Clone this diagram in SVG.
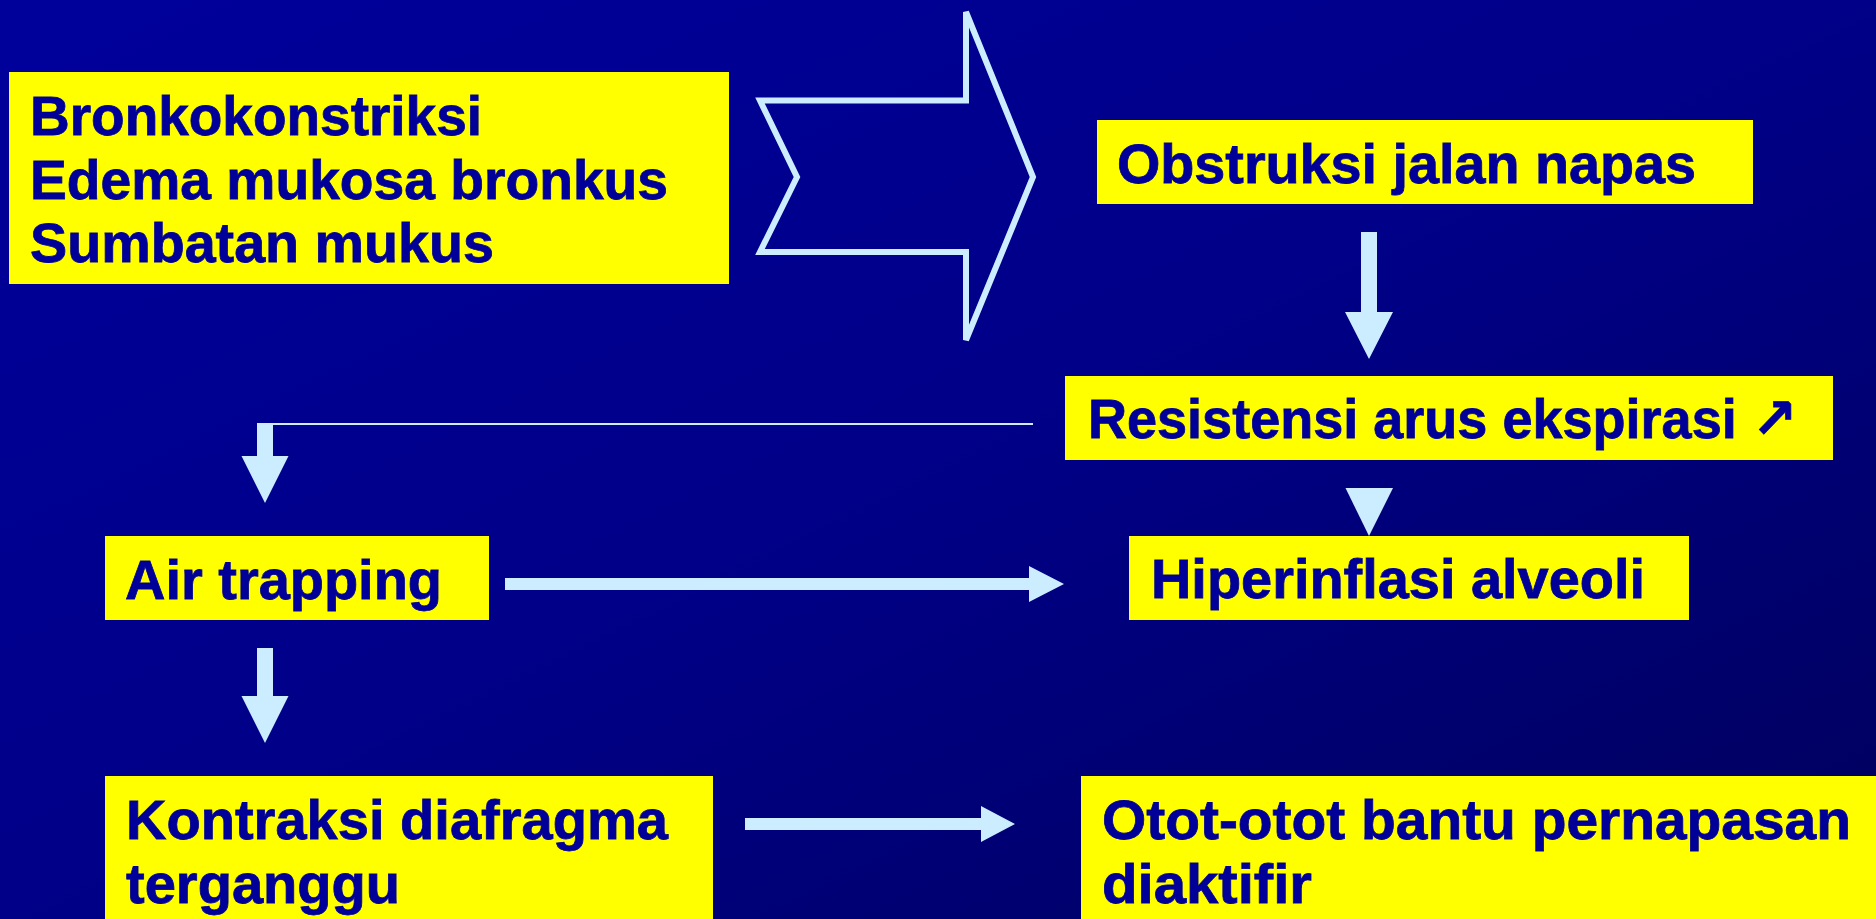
<svg xmlns="http://www.w3.org/2000/svg" width="1876" height="919" viewBox="0 0 1876 919">
  <defs>
    <linearGradient id="bg" x1="0" y1="0" x2="1" y2="1">
      <stop offset="0" stop-color="#00009C"/>
      <stop offset="0.5" stop-color="#000088"/>
      <stop offset="1" stop-color="#00005C"/>
    </linearGradient>
    <style>
      .box { fill: #FFFF00; }
      .t { font-family: "Liberation Sans", "DejaVu Sans", sans-serif; font-weight: bold; font-size: 56px; fill: #000099; stroke: #000099; stroke-width: 0.8; }
      .arr { fill: #CCECFF; }
      .hollow { fill: none; stroke: #CCECFF; stroke-width: 6; stroke-linejoin: miter; }
      .thin { stroke: #CCECFF; stroke-width: 2; fill: none; }
    </style>
  </defs>
  <rect x="0" y="0" width="1876" height="919" fill="url(#bg)"/>

  <g id="connectors">
    <polygon class="hollow" points="760,100.5 966,100.5 966,12 1033,177 966,340 966,252 760,252 797,177"/>
    <polygon class="arr" points="1361,232 1377,232 1377,312 1393,312 1369,359 1345,312 1361,312"/>
    <polygon class="arr" points="1345.5,488 1393,488 1369,536"/>
    <line class="thin" x1="265" y1="424" x2="1033" y2="424"/>
    <polygon class="arr" points="257,423 273,423 273,456 288.5,456 265,503 241.5,456 257,456"/>
    <polygon class="arr" points="257,648 273,648 273,696 288.5,696 265,743 241.5,696 257,696"/>
    <polygon class="arr" points="505,578 1029,578 1029,566 1064,584 1029,602 1029,590 505,590"/>
    <polygon class="arr" points="745,818 981,818 981,806 1015,824 981,842 981,830 745,830"/>
  </g>

  <g id="node-causes">
    <rect class="box" x="9" y="72" width="720" height="212"/>
    <text class="t" x="30" y="135" textLength="452" lengthAdjust="spacingAndGlyphs">Bronkokonstriksi</text>
    <text class="t" x="30" y="199" textLength="638" lengthAdjust="spacingAndGlyphs">Edema mukosa bronkus</text>
    <text class="t" x="30" y="262" textLength="464" lengthAdjust="spacingAndGlyphs">Sumbatan mukus</text>
  </g>

  <g id="node-obstruksi">
    <rect class="box" x="1097" y="120" width="656" height="84"/>
    <text class="t" x="1117" y="182.5" textLength="579" lengthAdjust="spacingAndGlyphs">Obstruksi jalan napas</text>
  </g>

  <g id="node-resistensi">
    <rect class="box" x="1065" y="376" width="768" height="84"/>
    <text class="t" x="1088" y="438" textLength="709" lengthAdjust="spacingAndGlyphs">Resistensi arus ekspirasi ↗</text>
  </g>

  <g id="node-hiperinflasi">
    <rect class="box" x="1129" y="536" width="560" height="84"/>
    <text class="t" x="1151" y="598" textLength="494" lengthAdjust="spacingAndGlyphs">Hiperinflasi alveoli</text>
  </g>

  <g id="node-airtrapping">
    <rect class="box" x="105" y="536" width="384" height="84"/>
    <text class="t" x="125" y="599" textLength="317" lengthAdjust="spacingAndGlyphs">Air trapping</text>
  </g>

  <g id="node-kontraksi">
    <rect class="box" x="105" y="776" width="608" height="143"/>
    <text class="t" x="126" y="839" textLength="542" lengthAdjust="spacingAndGlyphs">Kontraksi diafragma</text>
    <text class="t" x="126" y="903" textLength="274" lengthAdjust="spacingAndGlyphs">terganggu</text>
  </g>

  <g id="node-otot">
    <rect class="box" x="1081" y="776" width="795" height="143"/>
    <text class="t" x="1102" y="839" textLength="749" lengthAdjust="spacingAndGlyphs">Otot-otot bantu pernapasan</text>
    <text class="t" x="1102" y="903" textLength="210" lengthAdjust="spacingAndGlyphs">diaktifir</text>
  </g>
</svg>
